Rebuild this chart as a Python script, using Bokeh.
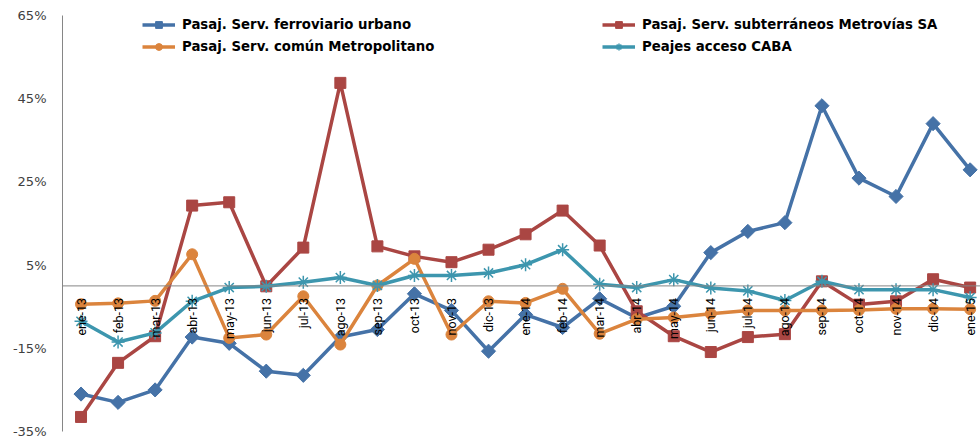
import math
from bokeh.plotting import figure
from bokeh.models import Range1d, FixedTicker, PrintfTickFormatter, Span, Legend, LegendItem, ColumnDataSource
from bokeh.core.properties import value
from bokeh.embed import file_html
from bokeh.resources import INLINE

months = ["ene-13", "feb-13", "mar-13", "abr-13", "may-13", "jun-13", "jul-13", "ago-13",
          "sep-13", "oct-13", "nov-13", "dic-13", "ene-14", "feb-14", "mar-14", "abr-14",
          "may-14", "jun-14", "jul-14", "ago-14", "sep-14", "oct-14", "nov-14", "dic-14", "ene-15"]

ferroviario = [-26.0, -28.0, -25.0, -12.3, -13.8, -20.5, -21.5, -12.3, -10.5, -1.9, -5.9, -15.7,
               -6.9, -10.0, -3.1, -7.7, -4.9, 8.0, 13.1, 15.2, 43.3, 25.9, 21.5, 39.0, 27.9]
subterraneos = [-31.5, -18.5, -12.1, 19.3, 20.1, -0.1, 9.2, 48.8, 9.5, 7.1, 5.7, 8.7,
                12.4, 18.1, 9.7, -6.1, -12.1, -15.9, -12.3, -11.6, 1.1, -4.5, -3.7, 1.6, -0.4]
comun = [-4.4, -4.2, -3.6, 7.6, -12.5, -11.7, -2.5, -14.1, 0.1, 6.5, -11.7, -3.7,
         -4.1, -0.7, -11.5, -8.0, -7.6, -6.7, -5.9, -5.9, -5.9, -5.8, -5.5, -5.5, -5.6]
peajes = [-8.5, -13.5, -11.3, -3.7, -0.4, -0.1, 0.9, 2.0, 0.1, 2.5, 2.5, 3.1,
          5.1, 8.7, 0.4, -0.4, 1.5, -0.5, -1.2, -3.5, 1.1, -0.9, -0.9, -0.9, -2.8]

y_ticks = [-35, -15, 5, 25, 45, 65]

names = ["Pasaj. Serv. ferroviario urbano", "Pasaj. Serv. subterráneos Metrovías SA",
         "Pasaj. Serv. común Metropolitano", "Peajes acceso CABA"]
colors = ["#4572A7", "#AA4643", "#DB843D", "#3D96AE"]

idx = list(range(len(months)))
src = ColumnDataSource(dict(x=idx, m=months, a=ferroviario, b=subterraneos, c=comun, d=peajes))

p = figure(width=980, height=440, output_backend="svg", toolbar_location=None,
           x_axis_location=None, x_range=Range1d(-0.5, 24.28), y_range=Range1d(-35, 67.4),
           min_border_left=62, min_border_right=0, min_border_top=5, min_border_bottom=9)
p.outline_line_color = None
p.xgrid.visible = False
p.ygrid.visible = False
p.background_fill_color = "white"
p.border_fill_color = "white"

ax = p.yaxis[0]
ax.ticker = FixedTicker(ticks=y_ticks)
ax.bounds = (-35, 65)
ax.formatter = PrintfTickFormatter(format="%d%%")
ax.axis_line_color = "#868686"
ax.major_tick_line_color = None
ax.minor_tick_line_color = None
ax.major_tick_out = 0
ax.major_label_standoff = 16
ax.major_label_text_font = "DejaVu Sans"
ax.major_label_text_font_size = "13px"
ax.major_label_text_color = "#404040"

p.add_layout(Span(location=0, dimension="width", line_color="#868686", line_width=1))

items = []
cols = ["a", "b", "c", "d"]
markers = ["square", "square", "circle", "asterisk"]
sizes = [10, 11, 11, 13]
angles = [math.pi / 4, 0, 0, 0]
for i in range(4):
    l = p.line("x", cols[i], source=src, line_color=colors[i], line_width=3.5)
    if markers[i] == "asterisk":
        s = p.scatter("x", cols[i], source=src, marker="asterisk", size=sizes[i],
                      line_color=colors[i], line_width=1.5)
    else:
        s = p.scatter("x", cols[i], source=src, marker=markers[i], size=sizes[i], angle=angles[i],
                      fill_color=colors[i], line_color=colors[i])
    items.append(LegendItem(label=names[i], renderers=[l, s]))

p.text(x="x", y=0, text="m", source=src, angle=math.pi / 2, text_align="right",
       text_baseline="middle", y_offset=12, text_font=value("Roboto"),
       text_font_size="12.5px", text_color="#000000")

def mk_legend(its, loc):
    lg = Legend(items=its, location=loc, orientation="vertical")
    lg.padding = 0
    lg.margin = 0
    lg.spacing = 5
    lg.glyph_width = 33
    lg.glyph_height = 17
    lg.label_standoff = 7
    lg.label_height = 17
    lg.border_line_color = None
    lg.background_fill_alpha = 0
    lg.label_text_font = "DejaVu Sans"
    lg.label_text_font_style = "bold"
    lg.label_text_font_size = "13.3px"
    lg.label_text_color = "#000000"
    return lg

p.add_layout(mk_legend([items[0], items[2]], (80, 376)))
p.add_layout(mk_legend([items[1], items[3]], (540, 376)))

open("out.html", "w").write(file_html(p, INLINE))
